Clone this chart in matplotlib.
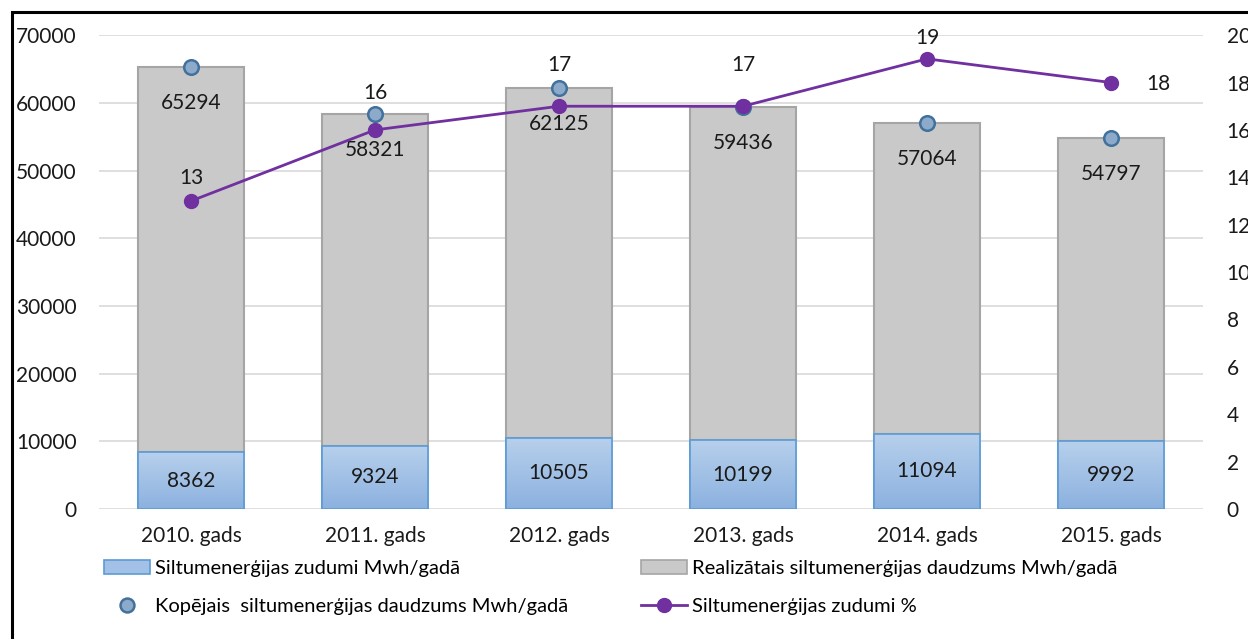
import matplotlib
matplotlib.use("Agg")
import matplotlib.pyplot as plt
import matplotlib.patches as mpatches
from matplotlib.lines import Line2D
import numpy as np

years = ["2010. gads", "2011. gads", "2012. gads", "2013. gads", "2014. gads", "2015. gads"]
losses = [8362, 9324, 10505, 10199, 11094, 9992]
totals = [65294, 58321, 62125, 59436, 57064, 54797]
loss_pct = [13, 16, 17, 17, 19, 18]
realized = [t - l for t, l in zip(totals, losses)]

# label offsets (points) for the % labels, like Excel placed them
pct_offsets = [(0, 16.5), (0, 26.5), (0, 30), (0, 30), (0, 15), (25, -1)]

plt.rcParams['font.family'] = ['Lato', 'DejaVu Sans']

fig = plt.figure(figsize=(12.48, 6.39), dpi=100)
ax = fig.add_axes([0.0793, 0.2034, 0.8847, 0.7416])
ax2 = ax.twinx()

x = np.arange(len(years))
w = 0.58

blue_bars = ax.bar(x, losses, w, color='#a3c1e7', edgecolor='#5b9bd5', linewidth=1.2, zorder=2)
gray_bars = ax.bar(x, realized, w, bottom=losses, color='#c9c9c9', edgecolor='#a5a5a5',
                   linewidth=1.5, zorder=2)

# gradient fill for the blue segments
grad = np.linspace(0, 1, 100).reshape(-1, 1)
cmap = matplotlib.colors.LinearSegmentedColormap.from_list('b', ['#8cb1df', '#b7d0ec'])
for b in blue_bars:
    im = ax.imshow(grad, cmap=cmap, aspect='auto', origin='lower',
                   extent=[b.get_x(), b.get_x() + b.get_width(), 0, b.get_height()], zorder=2.1)
    im.set_clip_path(b)
for b in blue_bars:
    ax.bar(b.get_x() + b.get_width() / 2, b.get_height(), b.get_width(), fill=False,
           edgecolor='#5b9bd5', linewidth=1.2, zorder=2.2)

ax.scatter(x, totals, s=110, color='#8eaacb', edgecolor='#41719c', linewidth=1.8, zorder=4)

for i in range(len(x)):
    ax.text(x[i], losses[i] / 2, str(losses[i]), ha='center', va='center', fontsize=15,
            color='#1a1a1a', zorder=5)
    ax.text(x[i], totals[i] - 5300, str(totals[i]), ha='center', va='center', fontsize=15,
            color='#1a1a1a', zorder=5)

ax.set_xlim(-0.5, len(x) - 0.5)
ax.set_ylim(0, 70000)
ax.set_yticks(range(0, 70001, 10000))
ax.set_xticks(x)
ax.set_xticklabels(years)
ax.grid(axis='y', color='#d9d9d9', linewidth=1.2, zorder=0)
ax.set_axisbelow(True)
ax.tick_params(axis='y', length=0, pad=16, labelsize=15, colors='#1a1a1a')
ax.tick_params(axis='x', length=0, pad=12, labelsize=15, colors='#1a1a1a')
for s in ax.spines.values():
    s.set_visible(False)

ax2.plot(x, loss_pct, color='#7030a0', linewidth=2, marker='o', markersize=10, zorder=6)
ax2.set_ylim(0, 20)
ax2.set_yticks(range(0, 21, 2))
ax2.tick_params(axis='y', length=0, pad=17, labelsize=15, colors='#1a1a1a')
for s in ax2.spines.values():
    s.set_visible(False)
for i in range(len(x)):
    ax2.annotate(str(loss_pct[i]), (x[i], loss_pct[i]), xytext=pct_offsets[i],
                 textcoords='offset points', ha='left' if pct_offsets[i][0] else 'center',
                 va='center', fontsize=15, color='#1a1a1a')

handles = [
    mpatches.Patch(facecolor='#a3c1e7', edgecolor='#5b9bd5', linewidth=1.2),
    Line2D([], [], linestyle='none', marker='o', markersize=10, markerfacecolor='#8eaacb',
           markeredgecolor='#41719c', markeredgewidth=1.8),
    mpatches.Patch(facecolor='#c9c9c9', edgecolor='#a5a5a5', linewidth=1.2),
    Line2D([], [], color='#7030a0', linewidth=2, marker='o', markersize=10),
]
labels = [
    "Siltumenerģijas zudumi Mwh/gadā",
    "Kopējais  siltumenerģijas daudzums Mwh/gadā",
    "Realizātais siltumenerģijas daudzums Mwh/gadā",
    "Siltumenerģijas zudumi %",
]
fig.legend(handles, labels, ncol=2, loc='upper left', bbox_to_anchor=(0.075, 0.14),
           frameon=False, fontsize=14.5, handlelength=2.3, handleheight=0.7, handletextpad=0.25,
           columnspacing=3.6, labelspacing=1.05, borderpad=0)

fig.patches.append(mpatches.Rectangle((0.0096, -0.5), 2, 1.482, fill=False, edgecolor='black',
                                      linewidth=2.2, transform=fig.transFigure, figure=fig))

fig.savefig("out.png", dpi=100)
